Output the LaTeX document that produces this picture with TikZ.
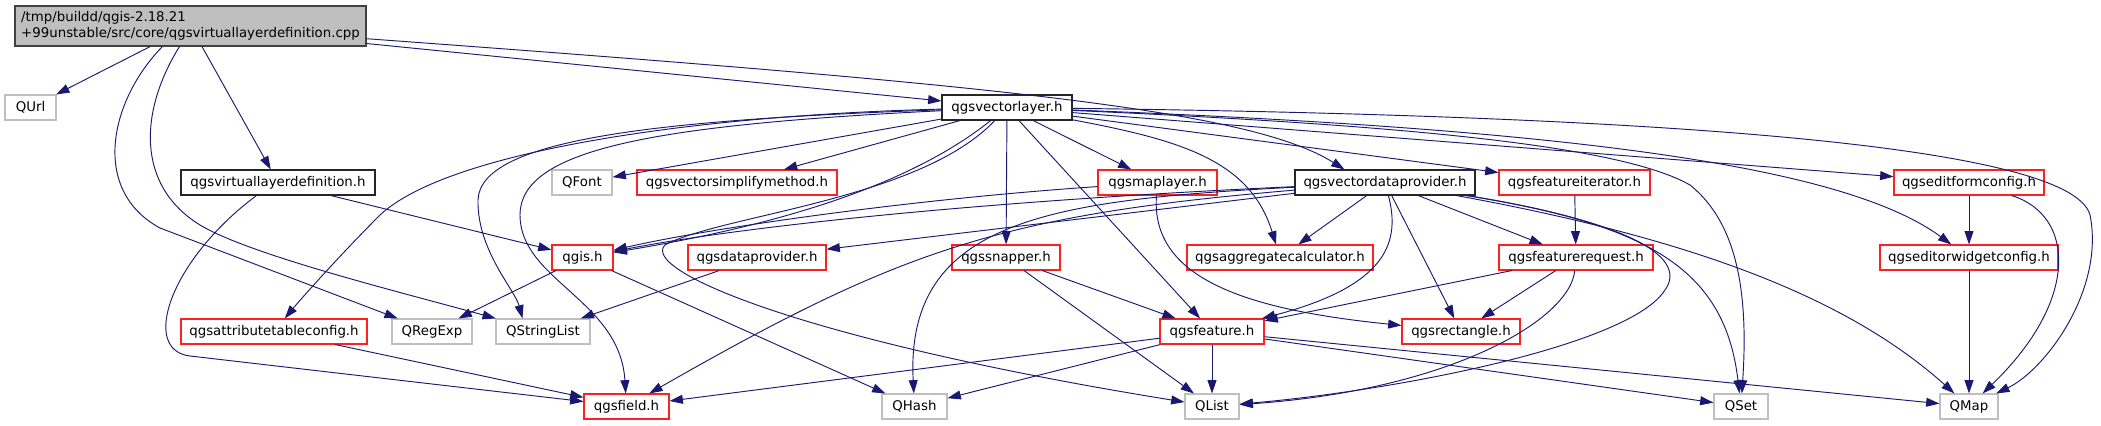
\documentclass[tikz,border=0pt]{standalone}
\usepackage{fontspec}
\setmainfont{DejaVu Sans}
\usetikzlibrary{arrows.meta}
\definecolor{edgec}{HTML}{191970}
\definecolor{grayb}{HTML}{BFBFBF}
\definecolor{rootfill}{HTML}{BFBFBF}
\definecolor{redb}{HTML}{FF2020}
\newcommand\nd[7]{\node[#6, minimum width={(#4-#2)*0.75pt}, minimum height={(#5-#3)*0.75pt}] (#1) at ({(#2+#4)/2},{(#3+#5)/2}) {#7};}
\begin{document}
\begin{tikzpicture}[x=0.75pt,y=-0.75pt, font=\fontsize{10pt}{12pt}\selectfont,
 nb/.style={draw, line width=0.8pt, inner sep=0pt, fill=white},
 bb/.style={nb, draw=black!85},
 rb/.style={nb, draw=redb},
 gb/.style={nb, draw=grayb},
 rootb/.style={nb, draw=black!75, fill=rootfill, align=left},
 e/.style={draw=edgec, line width=0.7pt, -{Triangle[length=10pt,width=6.7pt]}}]
\fill[white] (0,0) rectangle (2101,425);
\useasboundingbox (0,0) rectangle (2101,425);
% nodes
\nd{root}{15}{6}{366}{46}{rootb}{/tmp/buildd/qgis-2.18.21\\+99unstable/src/core/qgsvirtuallayerdefinition.cpp}
\nd{QUrl}{5}{95}{56}{120}{gb}{QUrl}
\nd{vld}{181}{170}{375}{195}{bb}{qgsvirtuallayerdefinition.h}
\nd{vl}{942}{95}{1072}{120}{bb}{qgsvectorlayer.h}
\nd{QFont}{552}{170}{612}{195}{gb}{QFont}
\nd{vsm}{637}{170}{837}{195}{rb}{qgsvectorsimplifymethod.h}
\nd{ml}{1098}{170}{1217}{195}{rb}{qgsmaplayer.h}
\nd{vdp}{1295}{170}{1475}{195}{bb}{qgsvectordataprovider.h}
\nd{fi}{1499}{170}{1650}{195}{rb}{qgsfeatureiterator.h}
\nd{efc}{1894}{170}{2044}{195}{rb}{qgseditformconfig.h}
\nd{qgis}{552}{245}{613}{270}{rb}{qgis.h}
\nd{dp}{688}{245}{826}{270}{rb}{qgsdataprovider.h}
\nd{sn}{952}{245}{1060}{270}{rb}{qgssnapper.h}
\nd{ac}{1187}{245}{1373}{270}{rb}{qgsaggregatecalculator.h}
\nd{fr}{1499}{245}{1653}{270}{rb}{qgsfeaturerequest.h}
\nd{ewc}{1880}{245}{2058}{270}{rb}{qgseditorwidgetconfig.h}
\nd{atc}{181}{319}{367}{344}{rb}{qgsattributetableconfig.h}
\nd{QRegExp}{392}{319}{472}{344}{gb}{QRegExp}
\nd{QStringList}{496}{319}{590}{344}{gb}{QStringList}
\nd{feat}{1160}{319}{1264}{344}{rb}{qgsfeature.h}
\nd{rect}{1402}{319}{1520}{344}{rb}{qgsrectangle.h}
\nd{field}{584}{394}{669}{419}{rb}{qgsfield.h}
\nd{QHash}{882}{394}{947}{419}{gb}{QHash}
\nd{QList}{1185}{394}{1239}{419}{gb}{QList}
\nd{QSet}{1714}{394}{1768}{419}{gb}{QSet}
\nd{QMap}{1940}{394}{1998}{419}{gb}{QMap}
% root edges
\draw[e] (root) -- (QUrl);
\draw[e] (root) -- (vld);
\draw[e] (root) -- (vl);
\draw[e] (root) .. controls (1000,85) and (1250,110) .. ([shift={(50,0)}]vdp.north west);
\draw[e] ([shift={(148,0)}]root.south west) .. controls (110,100) and (90,190) .. (160,228) -- (QRegExp);
\draw[e] ([shift={(165,0)}]root.south west) .. controls (140,110) and (135,185) .. (200,225) .. controls (250,255) and (400,292) .. (QStringList);
% vld edges
\draw[e] (vld) -- (qgis);
\draw[e] ([shift={(76,0)}]vld.south west) .. controls (170,260) and (140,350) .. (190,356) -- (field);
% vl edges
\draw[e] (vl) -- (QFont);
\draw[e] (vl) -- (vsm);
\draw[e] (vl) -- (ml);
\draw[e] (vl) -- (sn);
\draw[e] (vl) -- (fi);
\draw[e] (vl) -- (efc);
\draw[e] (vl) -- (feat);
\draw[e] (vl) .. controls (1180,140) and (1250,160) .. (ac);
\draw[e] (vl) .. controls (1400,125) and (1620,145) .. (1690,185) .. controls (1740,225) and (1748,300) .. (QSet);
\draw[e] (vl) .. controls (1600,130) and (1850,170) .. (ewc);
\draw[e] (vl) .. controls (1600,115) and (2070,140) .. (2090,215) .. controls (2105,290) and (2045,370) .. (QMap);
\draw[e] (vl) .. controls (910,185) and (780,225) .. (qgis);
\draw[e] (vl) .. controls (920,200) and (720,215) .. (665,245) .. controls (640,270) and (800,340) .. (QList);
\draw[e] (vl) .. controls (700,115) and (450,150) .. (380,215) .. controls (340,255) and (300,300) .. (atc);
\draw[e] (vl) .. controls (650,120) and (480,140) .. (478,200) .. controls (477,250) and (515,290) .. ([shift={(27,0)}]QStringList.north west);
\draw[e] (vl) .. controls (650,125) and (520,150) .. (520,215) .. controls (520,280) and (620,300) .. (field);
% vdp edges
\draw[e] (vdp) .. controls (1000,200) and (750,225) .. (qgis);
\draw[e] (vdp) -- (dp);
\draw[e] (vdp) .. controls (1000,215) and (900,250) .. (field);
\draw[e] (vdp) .. controls (1050,200) and (905,220) .. (QHash);
\draw[e] (vdp) -- (ac);
\draw[e] (vdp) .. controls (1400,240) and (1390,285) .. (feat);
\draw[e] (vdp) -- (rect);
\draw[e] (vdp) -- (fr);
\draw[e] (vdp) .. controls (1620,220) and (1690,255) .. (1665,290) .. controls (1630,345) and (1400,390) .. (QList);
\draw[e] (vdp) .. controls (1650,225) and (1725,270) .. (QSet);
\draw[e] (vdp) .. controls (1700,240) and (1850,300) .. (QMap);
% ml edges
\draw[e] (ml) .. controls (900,200) and (700,230) .. (qgis);
\draw[e] (ml) .. controls (1150,280) and (1250,310) .. (rect);
% others
\draw[e] (fi) -- (fr);
\draw[e] (efc) -- (ewc);
\draw[e] (efc) .. controls (2075,215) and (2080,300) .. (QMap);
\draw[e] (ewc) -- (QMap);
\draw[e] (fr) -- (feat);
\draw[e] (fr) -- (rect);
\draw[e] (fr) .. controls (1570,320) and (1450,390) .. (QList);
\draw[e] (sn) -- (feat);
\draw[e] (sn) -- (QList);
\draw[e] (feat) -- (field);
\draw[e] (feat) -- (QHash);
\draw[e] (feat) -- (QList);
\draw[e] (feat) -- (QSet);
\draw[e] (feat) -- (QMap);
\draw[e] (qgis) -- (QRegExp);
\draw[e] (qgis) -- (QHash);
\draw[e] (dp) -- (QStringList);
\draw[e] (atc) -- (field);
\end{tikzpicture}
\end{document}
